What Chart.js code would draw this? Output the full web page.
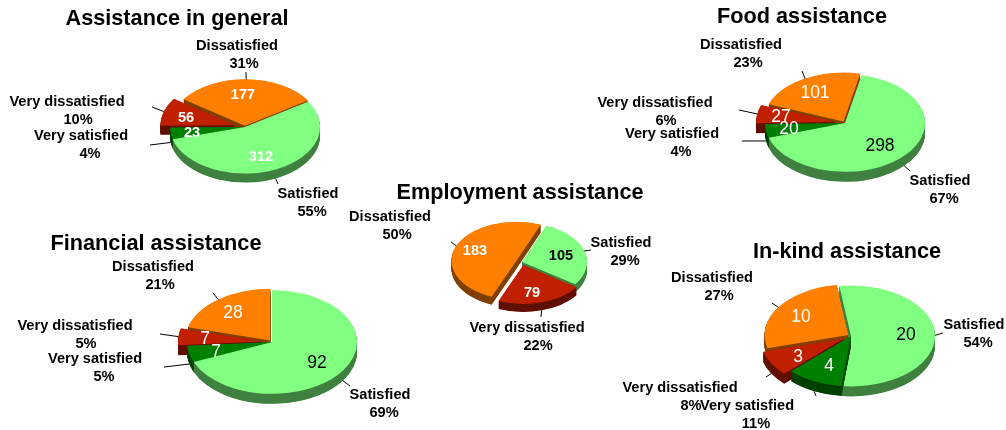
<!DOCTYPE html>
<html>
<head>
<meta charset="utf-8">
<title>Satisfaction with assistance</title>
<script src="https://cdn.jsdelivr.net/npm/chart.js@4/dist/chart.umd.min.js"></script>
<style>
    html, body { margin: 0; padding: 0; background: #fff; }
    #page { position: relative; width: 1006px; height: 430px; overflow: hidden; }
    #page canvas { position: absolute; left: 0; top: 0; }
</style>
</head>
<body>
<div id="page"></div>
<script>
const categories = ['Satisfied', 'Very satisfied', 'Very dissatisfied', 'Dissatisfied']

const generalValues = [312, 23, 56, 177]
const foodValues = [298, 20, 27, 101]
const employmentValues = [105, 0, 79, 183]
const financialValues = [92, 7, 7, 28]
const inKindValues = [20, 4, 3, 10]

const topColors = ['#80ff80', '#008000', '#c02000', '#ff8000']
const sideColors = ['#408040', '#004000', '#601000', '#804000']

// the percentage line sits a bit right of its category name in the original
const percentShift = [4, 9, 11, 7]

const pies = [
    {
        title: 'Assistance in general', titleAt: [177, 19],
        values: generalValues, rotation: 57,
        cx: 245, cy: 127, r: 75, squash: 0.62, depth: 9,
        explode: [0, 0, 10, 2],
        boldValues: true, valueColors: ['#fff', '#fff', '#fff', '#fff'],
        valueAt: [[261, 156], [192, 132], [186, 117], [243, 94]],
        labelAt: [[308, 194], [81, 136], [67, 102], [237, 46]],
        leaderEnd: [[278, 184], [150, 145], [152, 107], [246, 72]]
    },
    {
        title: 'Food assistance', titleAt: [802, 17],
        values: foodValues, rotation: 12,
        cx: 845, cy: 123, r: 80, squash: 0.61, depth: 10,
        explode: [0, 0, 9, 3],
        boldValues: false, valueColors: ['#000', '#fff', '#fff', '#fff'],
        valueAt: [[880, 145], [789, 128], [781, 116], [815, 92]],
        labelAt: [[940, 181], [672, 134], [655, 103], [741, 45]],
        leaderEnd: [[910, 171], [742, 141], [739, 110], [802, 71]]
    },
    {
        title: 'Employment assistance', titleAt: [520, 193],
        values: employmentValues, rotation: 22,
        cx: 522, cy: 262, r: 65, squash: 0.6, depth: 8,
        explode: [0, 0, 5, 6],
        boldValues: true, valueColors: ['#000', '#fff', '#fff', '#fff'],
        valueAt: [[561, 255], null, [532, 292], [475, 250]],
        labelAt: [[621, 243], null, [527, 328], [390, 217]],
        leaderEnd: [[591, 250], null, [541, 317], [451, 242]]
    },
    {
        title: 'Financial assistance', titleAt: [156, 244],
        values: financialValues, rotation: 0,
        cx: 272, cy: 342, r: 85, squash: 0.61, depth: 10,
        explode: [0, 0, 9, 3],
        boldValues: false, valueColors: ['#000', '#fff', '#fff', '#fff'],
        valueAt: [[317, 362], [216, 351], [205, 338], [233, 312]],
        labelAt: [[380, 395], [95, 359], [75, 326], [153, 267]],
        leaderEnd: [[350, 386], [164, 367], [160, 334], [213, 293]]
    },
    {
        title: 'In-kind assistance', titleAt: [847, 252],
        values: inKindValues, rotation: 352,
        cx: 851, cy: 336, r: 84, squash: 0.6, depth: 10,
        explode: [0, 0, 8, 3],
        boldValues: false, valueColors: ['#000', '#fff', '#fff', '#fff'],
        valueAt: [[906, 334], [829, 365], [798, 356], [801, 316]],
        labelAt: [[974, 325], [747, 406], [680, 388], [712, 278]],
        leaderEnd: [[943, 333], [816, 396], [766, 377], [772, 303]]
    }
]

const W = 1006
const H = 430

// Chart.js has no 3d pie, so the arcs get drawn squashed and stacked here
const pie3d = {
    id: 'pie3d',
    beforeDatasetsDraw (chart, args, opts) {
        const ctx = chart.ctx
        const arcs = chart.getDatasetMeta(0).data
        const mid = a => (a.startAngle + a.endAngle) / 2
        const order = arcs.map((a, i) => i)
            .filter(i => opts.values[i] > 0)
            .sort((a, b) => Math.sin(mid(arcs[a])) - Math.sin(mid(arcs[b])))

        ctx.save()
        ctx.translate(opts.cx, opts.cy)
        ctx.scale(1, opts.squash)
        ctx.translate(-opts.cx, -opts.cy)
        order.forEach(i => {
            const arc = arcs[i]
            const dx = Math.cos(mid(arc)) * opts.explode[i]
            const dy = Math.sin(mid(arc)) * opts.explode[i]
            const topOptions = arc.options
            const sideOptions = Object.create(topOptions)
            sideOptions.backgroundColor = sideColors[i]

            arc.options = sideOptions
            for (let d = opts.depth; d > 0; d -= 0.5) {
                ctx.save()
                ctx.translate(dx, dy + d / opts.squash)
                arc.draw(ctx)
                ctx.restore()
            }
            arc.options = topOptions
            ctx.save()
            ctx.translate(dx, dy)
            arc.draw(ctx)
            ctx.restore()
        })
        ctx.restore()
        return false
    },
    afterDraw (chart, args, opts) {
        const ctx = chart.ctx
        const arcs = chart.getDatasetMeta(0).data
        const total = opts.values.reduce((a, b) => a + b, 0)

        ctx.save()
        ctx.textAlign = 'center'
        ctx.textBaseline = 'middle'
        ctx.fillStyle = '#000'
        ctx.font = 'bold 21.7px "Liberation Sans"'
        ctx.fillText(opts.title, opts.titleAt[0], opts.titleAt[1])

        opts.values.forEach((value, i) => {
            if (!value) return
            const angle = (arcs[i].startAngle + arcs[i].endAngle) / 2
            const reach = opts.r + opts.explode[i]
            const sx = opts.cx + Math.cos(angle) * reach
            let sy = opts.cy + Math.sin(angle) * reach * opts.squash
            if (Math.sin(angle) > 0) sy += opts.depth

            ctx.strokeStyle = '#000'
            ctx.lineWidth = 1
            ctx.beginPath()
            ctx.moveTo(sx, sy)
            ctx.lineTo(opts.leaderEnd[i][0], opts.leaderEnd[i][1])
            ctx.stroke()

            ctx.font = 'bold 14.6px "Liberation Sans"'
            ctx.fillStyle = '#000'
            ctx.fillText(categories[i], opts.labelAt[i][0], opts.labelAt[i][1])
            ctx.fillText(Math.round(value / total * 100) + '%', opts.labelAt[i][0] + percentShift[i], opts.labelAt[i][1] + 18)

            ctx.font = opts.boldValues ? 'bold 14.6px "Liberation Sans"' : '17.5px "Liberation Sans"'
            ctx.fillStyle = opts.valueColors[i]
            ctx.fillText(String(value), opts.valueAt[i][0], opts.valueAt[i][1] + 1)
        })
        ctx.restore()
    }
}

pies.forEach(pie => {
    const canvas = document.createElement('canvas')
    canvas.width = W
    canvas.height = H
    document.getElementById('page').appendChild(canvas)

    new Chart(canvas, {
        type: 'pie',
        data: {
            labels: categories,
            datasets: [{
                data: pie.values,
                backgroundColor: topColors,
                borderWidth: 0,
                hoverOffset: 0
            }]
        },
        options: {
            responsive: false,
            animation: false,
            events: [],
            rotation: pie.rotation,
            layout: {
                padding: {
                    left: pie.cx - pie.r,
                    right: W - pie.cx - pie.r,
                    top: pie.cy - pie.r,
                    bottom: H - pie.cy - pie.r
                }
            },
            plugins: {
                legend: { display: false },
                tooltip: { enabled: false },
                pie3d: pie
            }
        },
        plugins: [pie3d]
    })
})
</script>
</body>
</html>
